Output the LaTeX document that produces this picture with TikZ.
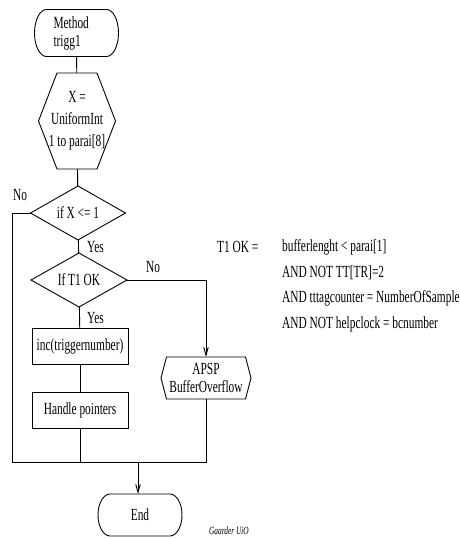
\documentclass[tikz,border=0pt]{standalone}
\usepackage{fontspec}
\setmainfont{Liberation Serif}[FakeStretch=0.67]
\usetikzlibrary{shapes.geometric, arrows.meta, calc}

\begin{document}
\begin{tikzpicture}[
    x=1pt, y=-1pt,
    font=\fontsize{17}{18}\selectfont,
    edge/.style={line width=0.9pt},
    flow/.style={edge, -{Straight Barb[length=8pt, width=4.5pt]}},
    term/.style={inner sep=0pt, outer sep=0pt},
    hexbox/.style={inner sep=0pt, outer sep=0pt, align=center},
    procbox/.style={draw, edge, minimum width=96pt, minimum height=36pt, inner sep=0pt, outer sep=0pt},
    decision/.style={diamond, draw, edge, aspect=1.76, minimum width=95pt, minimum height=54pt, inner sep=0pt, outer sep=0pt},
    wlabel/.style={inner sep=0pt},
    cond/.style={inner sep=0pt, anchor=west},
]

\useasboundingbox (0,0) rectangle (460,539);

% ---- terminal outline (half ellipses at both ends) ----
\def\rx{12pt}
\def\termout#1#2{%
  \draw[edge] ([xshift=\rx]#1.north west) -- ([xshift=-\rx]#1.north east)
    arc[start angle=90, end angle=-90, x radius=\rx, y radius=#2]
    -- ([xshift=\rx]#1.south west)
    arc[start angle=270, end angle=90, x radius=\rx, y radius=#2] -- cycle;}

% ---- main column ----
\node[term, minimum width=84pt, minimum height=47pt, text width=46pt, inner xsep=19pt, align=left] (start) at (76.5,33) {Method\\trigg1};
\termout{start}{23.5pt}

\node[hexbox, minimum width=77pt, minimum height=96pt] (rand) at (77,121) {X =\\[4pt]UniformInt\\[4pt]1 to parai[8]};
\draw[edge] ($(rand.north west)+(18.5,0)$) -- (rand.west) -- ($(rand.south west)+(18.5,0)$)
  -- ($(rand.south east)+(-18.5,0)$) -- (rand.east) -- ($(rand.north east)+(-18.5,0)$) -- cycle;

\node[decision] (test1) at (78,213) {if X <= 1};
\node[decision, minimum width=96pt] (test2) at (79,280) {If T1 OK};
\node[procbox] (inc) at (80,346) {inc(triggernumber)};
\node[procbox] (handle) at (80,410) {Handle pointers};

% ---- overflow branch ----
\node[hexbox, minimum width=90pt, minimum height=42pt] (apsp) at (206,378) {APSP\\BufferOverflow};
\draw[edge] ($(apsp.north west)+(5.5,0)$) -- (apsp.west) -- ($(apsp.south west)+(5.5,0)$)
  -- ($(apsp.south east)+(-5.5,0)$) -- (apsp.east) -- ($(apsp.north east)+(-5.5,0)$) -- cycle;

\node[term, minimum width=84pt, minimum height=42pt] (end) at (140,515) {End};
\termout{end}{21pt}

% ---- branch labels ----
\node[wlabel] (no1) at (20,195) {No};
\node[wlabel, anchor=west] (yes1) at (87,247) {Yes};
\node[wlabel] (no2) at (153,267) {No};
\node[wlabel, anchor=west] (yes2) at (87,318) {Yes};

% ---- condition text ----
\node[cond] (ok) at (217,247) {T1 OK =};
\foreach \t [count=\i from 0] in {{bufferlenght < parai[1]}, {AND NOT TT[TR]=2},
    {AND tttagcounter = NumberOfSample}, {AND NOT helpclock = bcnumber}} {
  \node[cond] (cond\i) at (282,247+25.7*\i) {\t};
}

\node[wlabel, font=\fontsize{11}{12}\selectfont\itshape] (sig) at (229,531) {Gaarder UiO};

% ---- connectors ----
\coordinate (lowl) at (12,462);
\coordinate (lowr) at (apsp.south |- lowl);
\coordinate (merge) at (138,462);

\draw[edge] (start) -- (rand);
\draw[edge] (rand) -- (test1);
\draw[edge] (test1) -- (test2);
\draw[edge] (test2) -- (inc);
\draw[edge] (inc) -- (handle);
\draw[edge] (handle) -- (handle.south |- lowl);
\draw[edge] (test1.west) -| (lowl) -- (lowr) -- (apsp.south);
\draw[flow] (test2.east) -| (apsp.north);
\draw[flow] (merge) -- (merge |- end.north);

\end{tikzpicture}
\end{document}
